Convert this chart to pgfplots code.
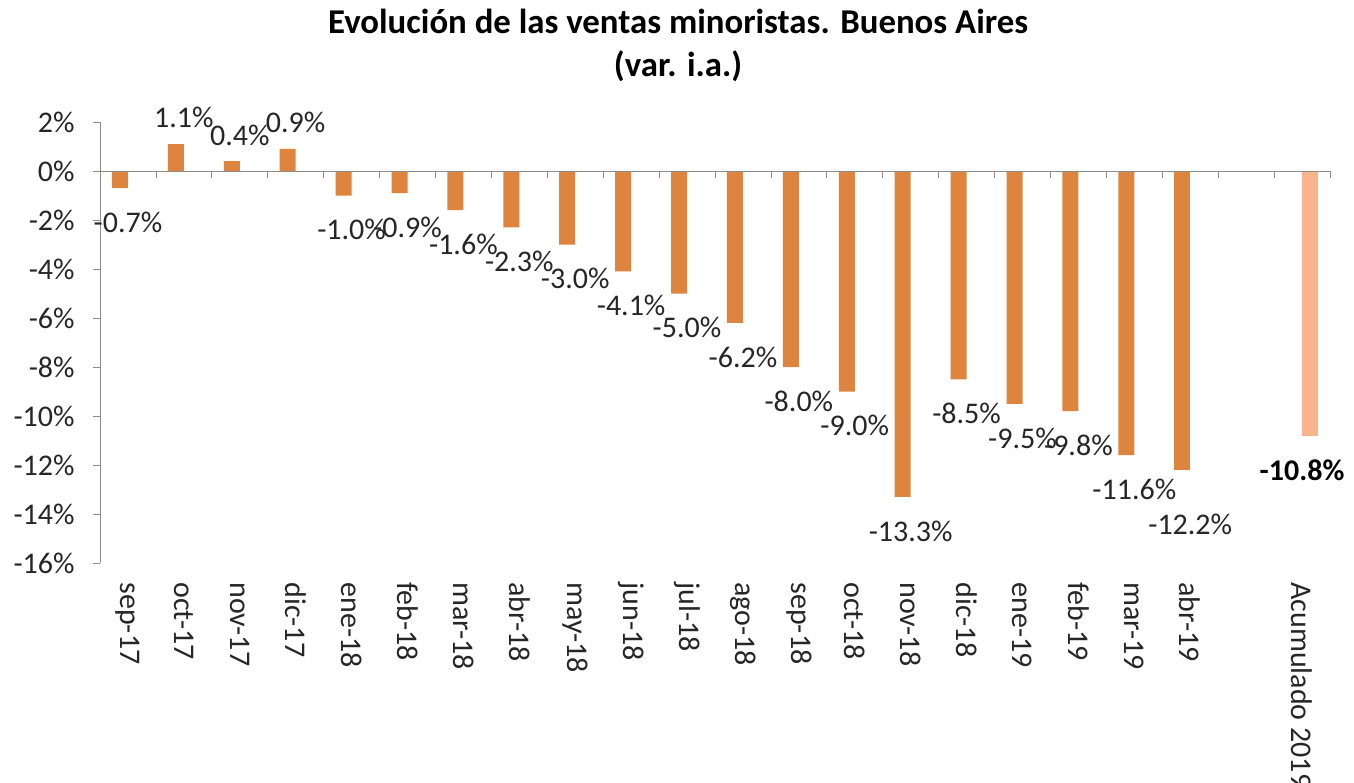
\documentclass[border=0pt]{standalone}
\usepackage{fontspec}
\setmainfont{Carlito}
\usepackage{pgfplots}
\pgfplotsset{compat=1.18}
\definecolor{barC}{RGB}{221,132,62}
\definecolor{barL}{RGB}{248,181,140}
\definecolor{axC}{RGB}{140,140,140}
\definecolor{txtC}{RGB}{38,38,38}
\begin{document}
\begin{tikzpicture}[font=\fontsize{15}{18}\selectfont, text=txtC]
\begin{axis}[
  scale only axis,
  width=615pt, height=220.5pt,
  xmin=-0.5, xmax=21.5,
  ymin=-16, ymax=2,
  axis lines*=left,
  x axis line style={draw=none},
  y axis line style={axC},
  xtick={0,...,19,21},
  xticklabels={sep-17,oct-17,nov-17,dic-17,ene-18,feb-18,mar-18,abr-18,may-18,jun-18,jul-18,ago-18,sep-18,oct-18,nov-18,dic-18,ene-19,feb-19,mar-19,abr-19,Acumulado 2019},
  xtick style={draw=none},
  xticklabel style={rotate=-90, anchor=west, inner sep=0pt},
  xticklabel shift=6pt,
  ytick={-16,-14,...,2},
  yticklabels={-16\%,-14\%,-12\%,-10\%,-8\%,-6\%,-4\%,-2\%,0\%,2\%},
  ytick style={axC},
  tick align=outside,
  major tick length=3.5pt,
  yticklabel style={inner sep=0pt},
  yticklabel shift=9pt,
  clip=false,
  title={Evolución de las ventas minoristas. Buenos Aires\\(var. i.a.)},
  title style={at={(rel axis cs:0.47,1)}, anchor=south, yshift=14pt, inner sep=0pt,
               align=center, font=\fontsize{17.4}{21.5}\selectfont\bfseries, text=black},
  nodes near coords,
  point meta=explicit symbolic,
]
% positive values
\addplot[ybar, bar width=8pt, bar shift=-4pt, fill=barC, draw=none,
  every node near coord/.style={anchor=south, inner sep=0pt, yshift=7.75pt, text=txtC}]
  coordinates {(1,1.1)[1.1\%] (2,0.4)[0.4\%] (3,0.9)[0.9\%]};
% negative values
\addplot[ybar, bar width=8pt, bar shift=-4pt, fill=barC, draw=none,
  every node near coord/.style={anchor=north, inner sep=0pt, yshift=-11.75pt, text=txtC}]
  coordinates {(0,-0.7)[-0.7\%] (4,-1.0)[-1.0\%] (5,-0.9)[-0.9\%] (6,-1.6)[-1.6\%]
    (7,-2.3)[-2.3\%] (8,-3.0)[-3.0\%] (9,-4.1)[-4.1\%] (10,-5.0)[-5.0\%]
    (11,-6.2)[-6.2\%] (12,-8.0)[-8.0\%] (13,-9.0)[-9.0\%] (14,-13.3)[-13.3\%]
    (15,-8.5)[-8.5\%] (16,-9.5)[-9.5\%] (17,-9.8)[-9.8\%] (18,-11.6)[-11.6\%]};
% last month, label pushed lower
\addplot[ybar, bar width=8pt, bar shift=-4pt, fill=barC, draw=none,
  every node near coord/.style={anchor=north, inner sep=0pt, yshift=-21.75pt, text=txtC}]
  coordinates {(19,-12.2)[-12.2\%]};
% accumulated
\addplot[ybar, bar width=8pt, bar shift=4pt, fill=barL, draw=none,
  every node near coord/.style={anchor=north, inner sep=0pt, yshift=-11.75pt, text=black, font=\fontsize{15}{18}\selectfont\bfseries}]
  coordinates {(21,-10.8)[-10.8\%]};
% zero axis line with category ticks
\draw[axC] (axis cs:-0.5,0) -- (axis cs:21.5,0);
\pgfplotsinvokeforeach{0.5,1.5,...,21.5}{\draw[axC] (axis cs:#1,0) -- ([yshift=-3.5pt]axis cs:#1,0);}
\end{axis}
\pgfresetboundingbox
\path (-50pt,-109.5pt) rectangle (627pt,281.5pt);
\end{tikzpicture}
\end{document}
